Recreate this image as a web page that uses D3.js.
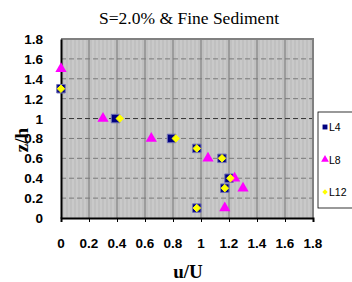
<!DOCTYPE html>
<html>
<head>
<meta charset="utf-8">
<script src="https://cdn.jsdelivr.net/npm/d3@7"></script>
<style>
  body { margin: 0; background: #fff; }
  svg { display: block; }
</style>
</head>
<body>
<svg id="chart" width="352" height="282"></svg>
<script>
// data
const xTicks = [0, 0.2, 0.4, 0.6, 0.8, 1, 1.2, 1.4, 1.6, 1.8];
const yTicks = [0, 0.2, 0.4, 0.6, 0.8, 1, 1.2, 1.4, 1.6, 1.8];
const l4 = [[0, 1.3], [0.39, 1.0], [0.79, 0.8], [0.97, 0.7], [1.15, 0.6], [1.2, 0.4], [1.17, 0.3], [0.97, 0.1]];
const l8 = [[0, 1.5], [0.3, 1.0], [0.645, 0.8], [1.05, 0.6], [1.24, 0.4], [1.3, 0.3], [1.17, 0.1]];
const l12 = [[0, 1.3], [0.42, 1.0], [0.82, 0.8], [0.97, 0.7], [1.15, 0.6], [1.21, 0.4], [1.17, 0.3], [0.97, 0.1]];
const seriesNames = ['L4', 'L8', 'L12'];

let svg = d3.select('#chart'),
    cs = {
        plot: { left: 61, right: 313, top: 39, bottom: 218 },
        colors: { L4: '#000080', L8: '#ff00ff', L12: '#ffff00' },
        bold: 'Liberation Sans, Arial, sans-serif',
        serif: 'Liberation Serif, Times New Roman, serif'
    };

let x = d3.scaleLinear().domain([0, 1.8]).range([cs.plot.left, cs.plot.right]);
let y = d3.scaleLinear().domain([0, 1.8]).range([cs.plot.bottom, cs.plot.top]);

// striped grey background
let defs = svg.append('defs');
let pat = defs.append('pattern').attr('id', 'stripes')
    .attr('patternUnits', 'userSpaceOnUse').attr('width', 4).attr('height', 4);
pat.append('rect').attr('width', 4).attr('height', 4).attr('fill', '#c0c0c0');
pat.append('rect').attr('width', 2).attr('height', 4).attr('fill', '#c9c9c9');

svg.append('rect')
    .attr('x', cs.plot.left).attr('y', cs.plot.top)
    .attr('width', cs.plot.right - cs.plot.left)
    .attr('height', cs.plot.bottom - cs.plot.top)
    .attr('fill', 'url(#stripes)');

// vertical grid (solid) and horizontal grid (dashed)
svg.append('g').selectAll('line').data(xTicks.slice(1)).join('line')
    .attr('x1', d => x(d)).attr('x2', d => x(d))
    .attr('y1', cs.plot.top).attr('y2', cs.plot.bottom)
    .attr('stroke', '#8c8c8c').attr('stroke-width', 1.5);

svg.append('g').selectAll('line').data(yTicks.slice(1, -1)).join('line')
    .attr('x1', cs.plot.left).attr('x2', cs.plot.right)
    .attr('y1', d => y(d)).attr('y2', d => y(d))
    .attr('stroke', d => d === 1 ? '#333' : '#7a7a7a')
    .attr('stroke-width', 1)
    .attr('stroke-dasharray', '5,3');

// top / right frame
svg.append('path')
    .attr('d', `M${cs.plot.left},${cs.plot.top}H${cs.plot.right}V${cs.plot.bottom}`)
    .attr('fill', 'none').attr('stroke', '#808080').attr('stroke-width', 2);

// axes
let xAxis = d3.axisBottom(x).tickValues(xTicks).tickSize(4).tickFormat('');
let yAxis = d3.axisLeft(y).tickValues(yTicks).tickSize(0).tickFormat('');
svg.append('g').attr('transform', `translate(0,${cs.plot.bottom})`).call(xAxis)
    .call(g => g.select('.domain').attr('stroke', '#000').attr('stroke-width', 2));
svg.append('g').attr('transform', `translate(${cs.plot.left},0)`).call(yAxis)
    .call(g => g.select('.domain').attr('stroke', '#000').attr('stroke-width', 2));

// tick labels
svg.append('g').selectAll('text').data(yTicks).join('text')
    .attr('x', 43).attr('y', d => y(d) + 5)
    .attr('text-anchor', 'end')
    .attr('font-family', cs.bold).attr('font-weight', 'bold').attr('font-size', 13.5)
    .text(d => d);

svg.append('g').selectAll('text').data(xTicks).join('text')
    .attr('x', d => x(d)).attr('y', 248)
    .attr('text-anchor', 'middle')
    .attr('font-family', cs.bold).attr('font-weight', 'bold').attr('font-size', 13.5)
    .text(d => d);

// titles
svg.append('text').attr('x', 189).attr('y', 24)
    .attr('text-anchor', 'middle')
    .attr('font-family', cs.serif).attr('font-size', 17.5)
    .text('S=2.0% & Fine Sediment');

svg.append('text').attr('x', 188).attr('y', 278)
    .attr('text-anchor', 'middle')
    .attr('font-family', cs.serif).attr('font-weight', 'bold').attr('font-size', 19)
    .text('u/U');

svg.append('text')
    .attr('transform', 'translate(28,140) rotate(-90)')
    .attr('text-anchor', 'middle')
    .attr('font-family', cs.serif).attr('font-weight', 'bold').attr('font-size', 19)
    .text('z/h');

// markers
let sym = {
    L4: d3.symbol().type(d3.symbolSquare).size(72),
    L8: d3.symbol().type(d3.symbolTriangle).size(55),
    L12: d3.symbol().type(d3.symbolDiamond2).size(36)
};
let stroke = { L4: '#7070b8', L8: 'none', L12: '#ffff00' };
let data = { L4: l4, L8: l8, L12: l12 };

seriesNames.forEach(name => {
    svg.append('g').selectAll('path').data(data[name]).join('path')
        .attr('transform', d => `translate(${x(d[0])},${y(d[1])})`)
        .attr('d', sym[name]())
        .attr('fill', cs.colors[name])
        .attr('stroke', stroke[name]).attr('stroke-width', 1)
        .attr('stroke-linejoin', 'round');
});

// legend
let lg = svg.append('g');
lg.append('rect').attr('x', 318).attr('y', 112).attr('width', 40).attr('height', 96)
    .attr('fill', '#fff').attr('stroke', '#000').attr('stroke-width', 0.8);
let small = {
    L4: d3.symbol().type(d3.symbolSquare).size(24),
    L8: d3.symbol().type(d3.symbolTriangle).size(26),
    L12: d3.symbol().type(d3.symbolDiamond2).size(18)
};
let legendY = d3.scalePoint().domain(seriesNames).range([127, 192]);
seriesNames.forEach(name => {
    lg.append('path')
        .attr('transform', `translate(325,${legendY(name)})`)
        .attr('d', small[name]())
        .attr('fill', cs.colors[name]);
    lg.append('text').attr('x', 329).attr('y', legendY(name) + 4)
        .attr('font-family', cs.bold).attr('font-size', 10.5)
        .text(name);
});
</script>
</body>
</html>
